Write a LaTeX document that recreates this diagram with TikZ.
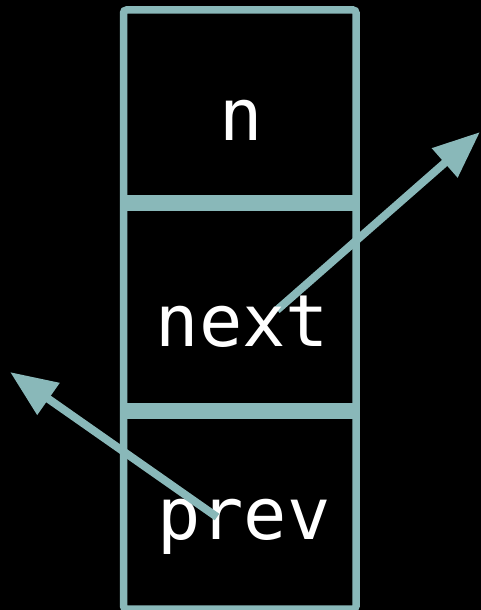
\documentclass[tikz,border=0pt]{standalone}
\usepackage{fontspec}
\newfontfamily\monofont{DejaVu Sans Mono}
\usetikzlibrary{arrows.meta}
\definecolor{teal1}{HTML}{89B8B9}
\tikzset{
  cellline/.style={draw=teal1, line width=7.5pt},
  divider/.style={fill=teal1, draw=none},
  label/.style={text=white, font=\monofont\fontsize{72}{72}\selectfont, anchor=base, inner sep=0pt},
  ptr/.style={draw=teal1, line width=8pt, -{Triangle[length=47pt,width=37pt]}}
}
\begin{document}
\begin{tikzpicture}[x=1pt,y=-1pt]
\fill[black] (0,0) rectangle (481,610);
\useasboundingbox (0,0) rectangle (481,610);
\begin{scope}
\clip (0,0) rectangle (481,610);
\draw[cellline, rounded corners=3pt] (123.5,609) -- (123.5,10) -- (356,10) -- (356,609) -- cycle;
\fill[divider] (120,195) rectangle (360,211);
\fill[divider] (120,403) rectangle (360,419);
\end{scope}
\coordinate (nextstart) at (277,310);
\coordinate (nextend) at (480,132);
\coordinate (prevstart) at (217,517);
\coordinate (prevend) at (10,372);
\draw[ptr] (nextstart) -- (nextend);
\node[label] (n) at (241,140) {n};
\node[label] (next) at (242.5,346) {next};
\node[label] (prev) at (244,539) {prev};
\draw[ptr] (prevstart) -- (prevend);
\end{tikzpicture}
\end{document}
